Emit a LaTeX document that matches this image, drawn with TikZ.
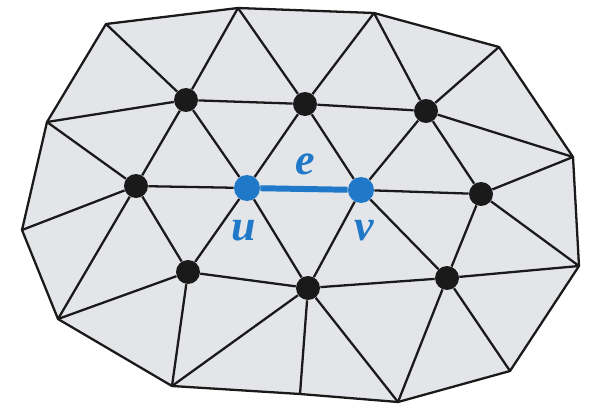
\documentclass[tikz,border=0pt]{standalone}
\usepackage{fontspec}
\setmainfont{Liberation Serif}
\usetikzlibrary{positioning}
\definecolor{meshGray}{HTML}{E3E5E8}
\definecolor{ink}{HTML}{1A1A1A}
\definecolor{edgeBlue}{HTML}{1F78C8}

\begin{document}
\begin{tikzpicture}[
    x=0.02cm, y=-0.02cm,
    vert/.style={circle, fill=ink, inner sep=0pt, minimum size=0.48cm},
    bvert/.style={circle, fill=edgeBlue, inner sep=0pt, minimum size=0.52cm},
    edge/.style={draw=ink, line width=1.3pt, line join=round},
    bedge/.style={draw=edgeBlue, line width=3.4pt},
    lbl/.style={text=edgeBlue, font=\fontsize{25}{28}\selectfont\bfseries\itshape}
  ]
    \useasboundingbox (0,0) rectangle (595,405);

    % Boundary
    \coordinate (b1) at (106,24);
    \coordinate (b2) at (238,8);
    \coordinate (b3) at (374,13);
    \coordinate (b4) at (499,47);
    \coordinate (b5) at (573,157);
    \coordinate (b6) at (579,266);
    \coordinate (b7) at (510,371);
    \coordinate (b8) at (398,402);
    \coordinate (bm) at (300,394);
    \coordinate (b9) at (172,386);
    \coordinate (b10) at (58,319);
    \coordinate (b11) at (22,230);
    \coordinate (b12) at (47,122);
    \fill[meshGray] (b1) -- (b2) -- (b3) -- (b4) -- (b5) -- (b6) -- (b7) -- (b8)
      -- (bm) -- (b9) -- (b10) -- (b11) -- (b12) -- cycle;
    \draw[edge] (b1) -- (b2) -- (b3) -- (b4) -- (b5) -- (b6) -- (b7) -- (b8)
      -- (bm) -- (b9) -- (b10) -- (b11) -- (b12) -- cycle;

    % Inner vertices
    \node[vert] (a1) at (186,100) {};
    \node[vert] (a2) at (305,104) {};
    \node[vert] (a3) at (426,111) {};
    \node[vert] (a4) at (136,186) {};
    \node[vert] (a5) at (481,194) {};
    \node[vert] (a6) at (188,272) {};
    \node[vert] (a7) at (308,288) {};
    \node[vert] (a8) at (447,278) {};
    \node[bvert] (u) at (247,188) {};
    \node[bvert] (v) at (361,190) {};

    % Boundary to inner
    \draw[edge] (b1) -- (a1);
    \draw[edge] (b2) -- (a1);
    \draw[edge] (b2) -- (a2);
    \draw[edge] (b3) -- (a2);
    \draw[edge] (b3) -- (a3);
    \draw[edge] (b4) -- (a3);
    \draw[edge] (b5) -- (a3);
    \draw[edge] (b5) -- (a5);
    \draw[edge] (b6) -- (a5);
    \draw[edge] (b6) -- (a8);
    \draw[edge] (b7) -- (a8);
    \draw[edge] (b8) -- (a8);
    \draw[edge] (b8) -- (a7);
    \draw[edge] (bm) -- (a7);
    \draw[edge] (b9) -- (a7);
    \draw[edge] (b9) -- (a6);
    \draw[edge] (b10) -- (a6);
    \draw[edge] (b10) -- (a4);
    \draw[edge] (b11) -- (a4);
    \draw[edge] (b12) -- (a4);
    \draw[edge] (b12) -- (a1);

    % Inner ring
    \draw[edge] (a1) -- (a2);
    \draw[edge] (a2) -- (a3);
    \draw[edge] (a3) -- (a5);
    \draw[edge] (a5) -- (a8);
    \draw[edge] (a8) -- (a7);
    \draw[edge] (a7) -- (a6);
    \draw[edge] (a6) -- (a4);
    \draw[edge] (a4) -- (a1);

    % Around u and v
    \draw[edge] (a4) -- (u);
    \draw[edge] (a1) -- (u);
    \draw[edge] (a2) -- (u);
    \draw[edge] (a6) -- (u);
    \draw[edge] (a7) -- (u);
    \draw[edge] (a2) -- (v);
    \draw[edge] (a3) -- (v);
    \draw[edge] (a5) -- (v);
    \draw[edge] (a8) -- (v);
    \draw[edge] (a7) -- (v);
    \draw[bedge] (u) -- (v);

    % Labels
    \node[lbl] (elbl) at (305,164) {e};
    \node[lbl] (ulbl) at (244,231) {u};
    \node[lbl] (vlbl) at (364,231) {v};
  \end{tikzpicture}
\end{document}
